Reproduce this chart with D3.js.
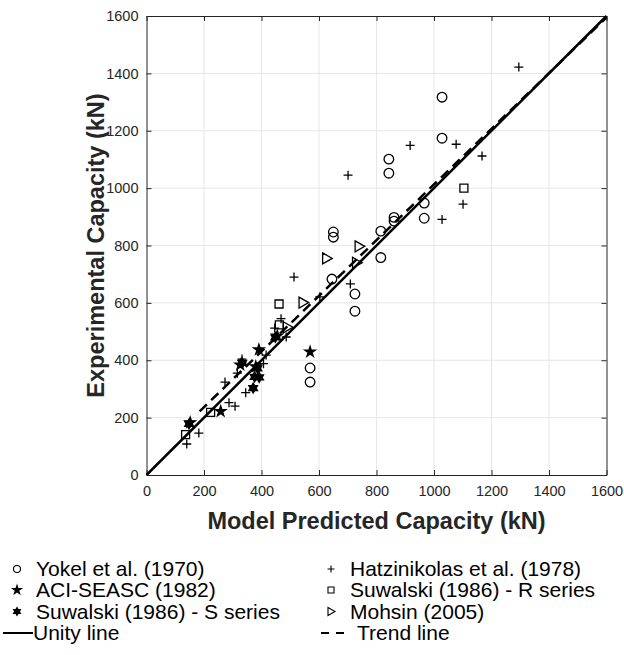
<!DOCTYPE html>
<html>
<head>
<meta charset="utf-8">
<script src="https://cdn.jsdelivr.net/npm/d3@7"></script>
<style>
  body { margin: 0; background: #fff; }
  text { font-family: "Liberation Sans", Arial, sans-serif; }
</style>
</head>
<body>
<div id="chart"></div>
<script>
// data (kN): [model predicted, experimental]
const yokel = [[1028,1317],[1028,1174],[843,1101],[843,1052],[966,948],[966,895],[861,898],[861,885],
  [815,850],[815,758],[650,847],[650,829],[645,683],[725,631],[725,571],[569,373],[569,324]];
const hatzinikolas = [[1295,1422],[917,1149],[1077,1153],[1167,1112],[1101,944],[1028,891],[701,1045],
  [513,690],[709,666],[603,621],[468,545],[446,512],[486,481],[416,418],[407,388],[332,404],[316,355],
  [273,324],[345,287],[287,252],[308,240],[182,146],[140,108]];
const aciSeasc = [[569,429],[391,437],[326,384],[380,378],[258,222],[455,485],[152,183]];
const suwalskiS = [[371,303],[376,342],[392,340],[333,391],[448,480],[148,178],[386,372]];
const suwalskiR = [[136,141],[223,218],[461,596],[462,523],[1104,1000]];
const mohsin = [[740,797],[627,755],[731,740],[545,601],[490,515]];
const unityLine = [[0,0],[1600,1600]];
const trendLine = [[185,222],[1600,1595]];
const ticks = [0,200,400,600,800,1000,1200,1400,1600];

const width = 624, height = 655;
const margin = {left: 146.5, right: 17.5, top: 16, bottom: 180};

const svg = d3.select("#chart").append("svg")
  .attr("width", width).attr("height", height);

const x = d3.scaleLinear().domain([0,1600]).range([margin.left, width - margin.right]);
const y = d3.scaleLinear().domain([0,1600]).range([height - margin.bottom, margin.top]);

// grid
svg.append("g").selectAll("line").data(ticks.slice(1,-1)).join("line")
  .attr("x1", d => x(d)).attr("x2", d => x(d))
  .attr("y1", y(0)).attr("y2", y(1600))
  .attr("stroke", "#e6e6e6").attr("stroke-width", 1);
svg.append("g").selectAll("line").data(ticks.slice(1,-1)).join("line")
  .attr("y1", d => y(d)).attr("y2", d => y(d))
  .attr("x1", x(0)).attr("x2", x(1600))
  .attr("stroke", "#e6e6e6").attr("stroke-width", 1);

// axes (ticks pointing inwards, MATLAB style)
const fmt = d3.format("d");
svg.append("g")
  .attr("transform", `translate(0,${y(0)})`)
  .call(d3.axisBottom(x).tickValues(ticks).tickFormat(fmt).tickSize(-5).tickPadding(11).tickSizeOuter(0));
svg.append("g")
  .attr("transform", `translate(${x(0)},0)`)
  .call(d3.axisLeft(y).tickValues(ticks).tickFormat(fmt).tickSize(-5).tickPadding(8).tickSizeOuter(0));
svg.append("g")
  .attr("transform", `translate(0,${y(1600)})`)
  .call(d3.axisTop(x).tickValues(ticks).tickSize(-5).tickFormat("").tickSizeOuter(0));
svg.append("g")
  .attr("transform", `translate(${x(1600)},0)`)
  .call(d3.axisRight(y).tickValues(ticks).tickSize(-5).tickFormat("").tickSizeOuter(0));

svg.selectAll(".domain").attr("stroke", "#262626");
svg.selectAll(".tick line").attr("stroke", "#262626");
svg.selectAll(".tick text")
  .attr("font-family", "Liberation Sans, Arial, sans-serif")
  .attr("font-size", 14.5).attr("fill", "#262626");

// axis titles
svg.append("text")
  .attr("x", (x(0) + x(1600)) / 2).attr("y", 529)
  .attr("text-anchor", "middle")
  .attr("font-size", 23.5).attr("font-weight", "bold").attr("fill", "#262626")
  .text("Model Predicted Capacity (kN)");
svg.append("text")
  .attr("transform", `translate(104,${(y(0) + y(1600)) / 2}) rotate(-90)`)
  .attr("text-anchor", "middle")
  .attr("font-size", 23.5).attr("font-weight", "bold").attr("fill", "#262626")
  .text("Experimental Capacity (kN)");

// lines
const line = d3.line().x(d => x(d[0])).y(d => y(d[1]));
svg.append("path").datum(trendLine).attr("d", line)
  .attr("fill", "none").attr("stroke", "#000").attr("stroke-width", 2.5)
  .attr("stroke-dasharray", "10,6");
svg.append("path").datum(unityLine).attr("d", line)
  .attr("fill", "none").attr("stroke", "#000").attr("stroke-width", 2.5);

// marker shapes
function hexagram(r) {
  const pts = [];
  for (let i = 0; i < 12; i++) {
    const a = -Math.PI / 2 + i * Math.PI / 6;
    const rr = i % 2 === 0 ? r : r * 0.58;
    pts.push([rr * Math.cos(a), rr * Math.sin(a)]);
  }
  return "M" + pts.map(p => p.join(",")).join("L") + "Z";
}
function plus(r) { return `M${-r},0H${r}M0,${-r}V${r}`; }
function triRight(r) { return `M${-r*0.75},${-r}L${r},0L${-r*0.75},${r}Z`; }
function square(r) { return `M${-r},${-r}H${r}V${r}H${-r}Z`; }
const star = r => d3.symbol().type(d3.symbolStar).size(r)();

const markers = {
  yokel: {circle: true, r: 4.8, lr: 3.5},
  hatz: {path: plus(4.5), legend: plus(3.5), fill: "none"},
  aci: {path: star(34), legend: star(24), fill: "#000"},
  suwR: {path: square(4), legend: square(3), fill: "none"},
  suwS: {path: hexagram(5), legend: hexagram(4), fill: "#000"},
  mohsin: {path: triRight(5.5), legend: triRight(4), fill: "none"}
};

function drawSeries(data, m) {
  const sel = svg.append("g").selectAll("g").data(data).join("g")
    .attr("transform", d => `translate(${x(d[0])},${y(d[1])})`);
  if (m.circle) {
    sel.append("circle").attr("r", m.r).attr("fill", "none")
      .attr("stroke", "#000").attr("stroke-width", 1.3);
  } else {
    sel.append("path").attr("d", m.path).attr("fill", m.fill)
      .attr("stroke", "#000").attr("stroke-width", 1.3);
  }
}
drawSeries(yokel, markers.yokel);
drawSeries(hatzinikolas, markers.hatz);
drawSeries(aciSeasc, markers.aci);
drawSeries(suwalskiR, markers.suwR);
drawSeries(suwalskiS, markers.suwS);
drawSeries(mohsin, markers.mohsin);

// legend
const legendItems = [
  {label: "Yokel et al. (1970)", col: 0, row: 0, m: "yokel"},
  {label: "Hatzinikolas et al. (1978)", col: 1, row: 0, m: "hatz"},
  {label: "ACI-SEASC (1982)", col: 0, row: 1, m: "aci"},
  {label: "Suwalski (1986) - R series", col: 1, row: 1, m: "suwR"},
  {label: "Suwalski (1986) - S series", col: 0, row: 2, m: "suwS"},
  {label: "Mohsin (2005)", col: 1, row: 2, m: "mohsin"}
];
const colX = [17, 331], rowY = [569, 590, 611.5, 633];
const legendFont = 21;
const lg = svg.append("g");
legendItems.forEach(it => {
  const gx = colX[it.col], gy = rowY[it.row];
  const m = markers[it.m];
  if (m.circle) {
    lg.append("circle").attr("cx", gx).attr("cy", gy).attr("r", m.lr)
      .attr("fill", "none").attr("stroke", "#000").attr("stroke-width", 1.1);
  } else {
    lg.append("path").attr("transform", `translate(${gx},${gy})`).attr("d", m.legend)
      .attr("fill", m.fill).attr("stroke", "#000").attr("stroke-width", 1.1);
  }
  lg.append("text").attr("x", gx + 19).attr("y", gy + 7)
    .attr("font-size", legendFont).attr("fill", "#000").text(it.label);
});
// line entries
lg.append("line").attr("x1", 3).attr("x2", 33).attr("y1", rowY[3]).attr("y2", rowY[3])
  .attr("stroke", "#000").attr("stroke-width", 2);
lg.append("text").attr("x", 33).attr("y", rowY[3] + 7).attr("font-size", legendFont).text("Unity line");
lg.append("line").attr("x1", 321).attr("x2", 346).attr("y1", rowY[3]).attr("y2", rowY[3])
  .attr("stroke", "#000").attr("stroke-width", 2).attr("stroke-dasharray", "8,7");
lg.append("text").attr("x", 357).attr("y", rowY[3] + 7).attr("font-size", legendFont).text("Trend line");
</script>
</body>
</html>
